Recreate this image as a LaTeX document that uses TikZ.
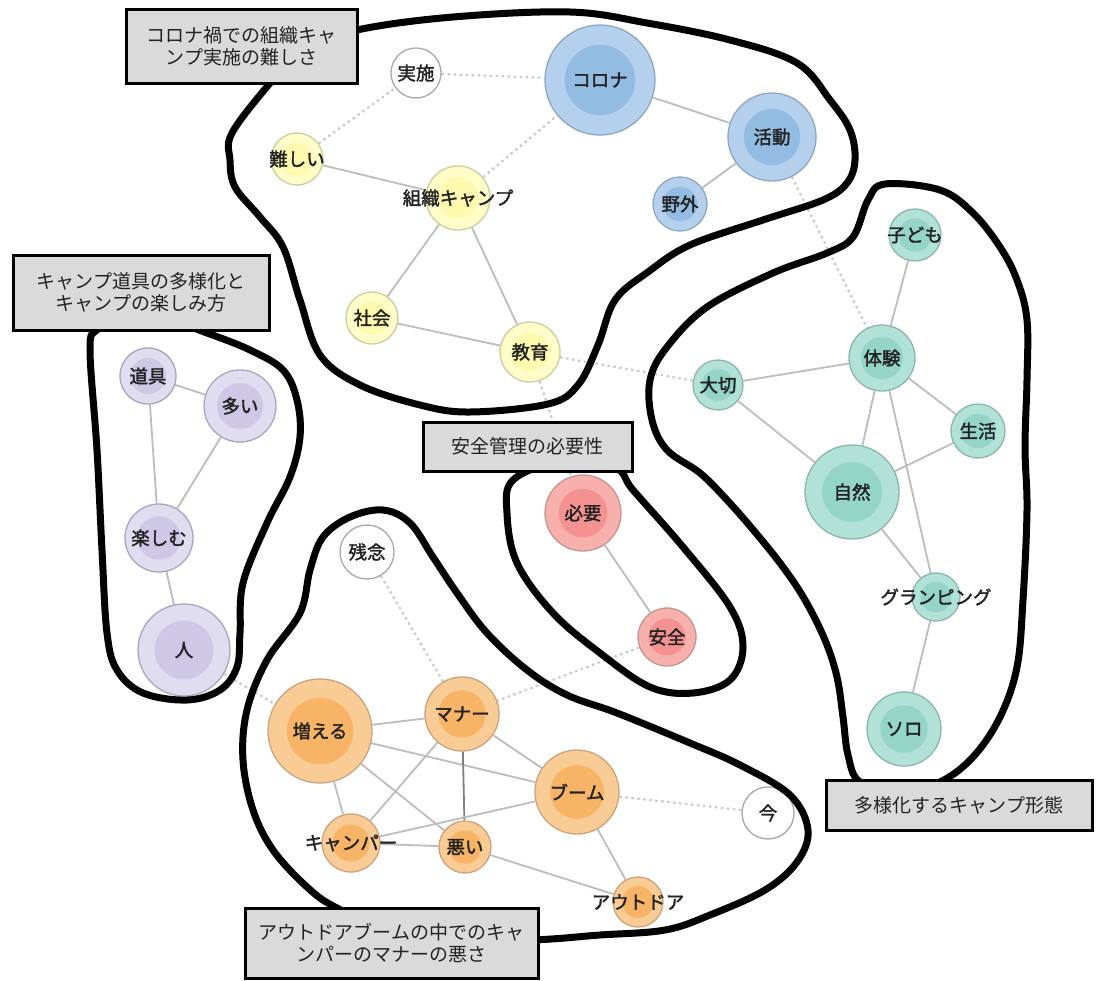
\documentclass[tikz,border=0pt]{standalone}
\usepackage{fontspec}
\setmainfont{Noto Sans CJK JP}
\newfontfamily\kwfont[FakeBold=1.8]{Noto Sans CJK JP}
\usetikzlibrary{calc,backgrounds}

\definecolor{bluO}{HTML}{B4D0EC}
\definecolor{bluI}{HTML}{93BCE3}
\definecolor{bluD}{HTML}{8FA6BE}
\definecolor{yelO}{HTML}{FFFDC8}
\definecolor{yelI}{HTML}{FDF9AE}
\definecolor{yelD}{HTML}{CFCCA0}
\definecolor{purO}{HTML}{E0DDF0}
\definecolor{purI}{HTML}{CEC8E6}
\definecolor{purD}{HTML}{A9A5BD}
\definecolor{redO}{HTML}{F7B0AC}
\definecolor{redI}{HTML}{F39290}
\definecolor{redD}{HTML}{C49591}
\definecolor{oraO}{HTML}{FACC95}
\definecolor{oraI}{HTML}{F8B466}
\definecolor{oraD}{HTML}{C9A47E}
\definecolor{grnO}{HTML}{B2E2D7}
\definecolor{grnI}{HTML}{95D5C6}
\definecolor{grnD}{HTML}{8BB5AB}
\definecolor{whtD}{HTML}{A8A8A8}
\definecolor{linkgray}{HTML}{BDBDBD}
\definecolor{dotgray}{HTML}{CACACA}
\definecolor{boxgray}{HTML}{DADADA}
\definecolor{ink}{HTML}{222222}

\newcommand{\kw}[1]{\makebox[0pt]{#1}}

\begin{document}
\begin{tikzpicture}[x=1pt,y=-1pt]
  \tikzset{bubble/.style n args={3}{shape=circle, inner sep=0pt, fill=#1, draw=#3, line width=1.3pt,
                                    text=ink, font=\kwfont\fontsize{18.5}{18.5}\selectfont,
                                    path picture={\fill[#2] let \p1=(path picture bounding box.east),
                                                  \p2=(path picture bounding box.center) in
                                                  (\p2) circle ({0.64*(\x1-\x2)});}},
           blu/.style={bubble={bluO}{bluI}{bluD}},
           yel/.style={bubble={yelO}{yelI}{yelD}},
           pur/.style={bubble={purO}{purI}{purD}},
           rd/.style={bubble={redO}{redI}{redD}},
           ora/.style={bubble={oraO}{oraI}{oraD}},
           grn/.style={bubble={grnO}{grnI}{grnD}},
           wht/.style={bubble={white}{white}{whtD}},
           link/.style={draw=linkgray, line width=1.8pt},
           weak/.style={draw=dotgray, line width=2.2pt, dash pattern=on 2.5pt off 3.5pt},
           blob/.style={draw=black, line width=7pt, line join=round},
           tag/.style={draw=black, line width=3pt, fill=boxgray, align=center, inner sep=0pt,
                       text=ink, font=\fontsize{19}{22}\selectfont}}
  \useasboundingbox (0,0) rectangle (1100,980);
  %%% CORONA / ORGANIZED CAMP %%%
  \node[blu, minimum size=110pt] (korona) at (600,80) {\kw{コロナ}};
  \node[blu, minimum size=88pt] (katsudo) at (772,137) {\kw{活動}};
  \node[blu, minimum size=54pt] (yagai) at (680,204) {\kw{野外}};
  \node[wht, minimum size=50pt] (jisshi) at (416,73) {\kw{実施}};
  \node[yel, minimum size=52pt] (muzu) at (297,159) {\kw{難しい}};
  \node[yel, minimum size=64pt] (soshiki) at (458,198) {\kw{組織キャンプ}};
  \node[yel, minimum size=52pt] (shakai) at (372,318) {\kw{社会}};
  \node[yel, minimum size=60pt] (kyoiku) at (530,352) {\kw{教育}};
  %%% TOOLS %%%
  \node[pur, minimum size=56pt] (dogu) at (148,376) {\kw{道具}};
  \node[pur, minimum size=72pt] (oi) at (240,406) {\kw{多い}};
  \node[pur, minimum size=68pt] (tano) at (159,538) {\kw{楽しむ}};
  \node[pur, minimum size=92pt] (hito) at (184,650) {\kw{人}};
  %%% SAFETY %%%
  \node[rd, minimum size=76pt] (hitsuyo) at (583,513) {\kw{必要}};
  \node[rd, minimum size=58pt] (anzen) at (667,637) {\kw{安全}};
  %%% MANNERS %%%
  \node[wht, minimum size=54pt] (zannen) at (367,552) {\kw{残念}};
  \node[ora, minimum size=104pt] (fueru) at (320,731) {\kw{増える}};
  \node[ora, minimum size=74pt] (manaa) at (462,714) {\kw{マナー}};
  \node[ora, minimum size=84pt] (buumu) at (577,792) {\kw{ブーム}};
  \node[ora, minimum size=58pt] (campa) at (351,843) {\kw{キャンパー}};
  \node[ora, minimum size=52pt] (warui) at (465,847) {\kw{悪い}};
  \node[ora, minimum size=50pt] (outdoor) at (638,902) {\kw{アウトドア}};
  \node[wht, minimum size=52pt] (ima) at (768,813) {\kw{今}};
  %%% STYLES OF CAMPING %%%
  \node[grn, minimum size=52pt] (kodomo) at (915,235) {\kw{子ども}};
  \node[grn, minimum size=66pt] (taiken) at (882,358) {\kw{体験}};
  \node[grn, minimum size=50pt] (taisetsu) at (718,385) {\kw{大切}};
  \node[grn, minimum size=54pt] (seikatsu) at (978,431) {\kw{生活}};
  \node[grn, minimum size=94pt] (shizen) at (852,492) {\kw{自然}};
  \node[grn, minimum size=48pt] (glamp) at (936,597) {\kw{グランピング}};
  \node[grn, minimum size=74pt] (solo) at (904,729) {\kw{ソロ}};
  %%% LINKS %%%
  \begin{scope}[on background layer]
    \fill[white] (0,0) rectangle (1100,980);
    \draw[weak] (jisshi) -- (korona);
    \draw[weak] (muzu) -- (jisshi);
    \draw[weak] (soshiki) -- (korona);
    \draw[weak] (katsudo) -- (taiken);
    \draw[weak] (kyoiku) -- (taisetsu);
    \draw[weak] (kyoiku) -- (hitsuyo);
    \draw[weak] (hito) -- (fueru);
    \draw[weak] (zannen) -- (manaa);
    \draw[weak] (anzen) -- (manaa);
    \draw[weak] (buumu) -- (ima);
    \draw[link] (korona) -- (katsudo);
    \draw[link] (katsudo) -- (yagai);
    \draw[link] (muzu) -- (soshiki);
    \draw[link] (soshiki) -- (shakai);
    \draw[link] (soshiki) -- (kyoiku);
    \draw[link] (shakai) -- (kyoiku);
    \draw[link] (dogu) -- (oi);
    \draw[link] (dogu) -- (tano);
    \draw[link] (oi) -- (tano);
    \draw[link] (tano) -- (hito);
    \draw[link] (hitsuyo) -- (anzen);
    \draw[link] (fueru) -- (manaa);
    \draw[link] (fueru) -- (buumu);
    \draw[link] (fueru) -- (campa);
    \draw[link] (fueru) -- (warui);
    \draw[link] (manaa) -- (campa);
    \draw[link, draw=gray] (manaa) -- (warui);
    \draw[link] (manaa) -- (buumu);
    \draw[link] (buumu) -- (campa);
    \draw[link] (campa) -- (warui);
    \draw[link] (warui) -- (outdoor);
    \draw[link] (buumu) -- (outdoor);
    \draw[link] (kodomo) -- (taiken);
    \draw[link] (taiken) -- (taisetsu);
    \draw[link] (taiken) -- (shizen);
    \draw[link] (taiken) -- (seikatsu);
    \draw[link] (taiken) -- (glamp);
    \draw[link] (taisetsu) -- (shizen);
    \draw[link] (shizen) -- (seikatsu);
    \draw[link] (shizen) -- (glamp);
    \draw[link] (glamp) -- (solo);
  \end{scope}
  %%% OUTLINES %%%
  \draw[blob] plot[smooth cycle, tension=0.6] coordinates {(300,50) (357,30) (453,17) (570,12) (647,23)
    (730,40) (797,63) (830,100) (850,130) (855,160) (847,183) (823,200) (763,220) (690,245) (648,272)
    (615,300) (598,345) (578,385) (548,404) (470,412) (420,405) (360,385) (320,355) (300,300) (283,247)
    (260,217) (235,187) (230,160) (232,133) (270,83)};
  \draw[blob] plot[smooth cycle, tension=0.6] coordinates {(885,184) (940,190) (973,213) (1000,247)
    (1017,280) (1027,320) (1027,380) (1025,447) (1027,510) (1023,600) (1017,667) (1000,717) (973,757)
    (940,782) (900,792) (860,782) (848,755) (843,717) (837,677) (825,640) (805,600) (783,567) (755,532)
    (727,500) (700,473) (667,450) (652,420) (650,380) (667,347) (707,307) (773,273) (827,253) (853,237)
    (868,200)};
  \draw[blob] plot[smooth cycle, tension=0.6] coordinates {(513,480) (507,513) (517,563) (553,613)
    (600,653) (650,687) (693,693) (730,680) (743,647) (730,607) (683,547) (633,490) (615,468) (560,462)};
  \draw[blob] plot[smooth cycle, tension=0.6] coordinates {(97,330) (90,350) (97,450) (102,550)
    (107,633) (117,670) (143,693) (187,700) (220,690) (237,667) (240,633) (243,583) (267,523) (290,477)
    (300,437) (297,400) (283,370) (250,350) (207,333) (173,322) (120,320)};
  \draw[blob] plot[smooth cycle, tension=0.6] coordinates {(300,613) (310,570) (323,537) (350,517)
    (383,510) (410,523) (433,557) (457,593) (487,633) (527,670) (567,695) (617,713) (690,743) (740,765)
    (790,795) (808,830) (797,862) (765,890) (710,915) (665,930) (600,935) (520,940) (400,935) (337,908)
    (307,887) (273,850) (253,810) (243,760) (247,710) (267,660)};
  %%% TITLES %%%
  \node[tag, minimum width=231pt, minimum height=74pt] (t1) at (241.5,46) {コロナ禍での組織キャ\\ンプ実施の難しさ};
  \node[tag, minimum width=256pt, minimum height=75pt] (t2) at (141,292.5) {キャンプ道具の多様化と\\キャンプの楽しみ方};
  \node[tag, minimum width=209pt, minimum height=49pt] (t3) at (527.5,446.5) {安全管理の必要性};
  \node[tag, minimum width=266pt, minimum height=50pt] (t4) at (959,805) {多様化するキャンプ形態};
  \node[tag, minimum width=293pt, minimum height=70pt] (t5) at (391.5,943) {アウトドアブームの中でのキャ\\ンパーのマナーの悪さ};
\end{tikzpicture}
\end{document}
